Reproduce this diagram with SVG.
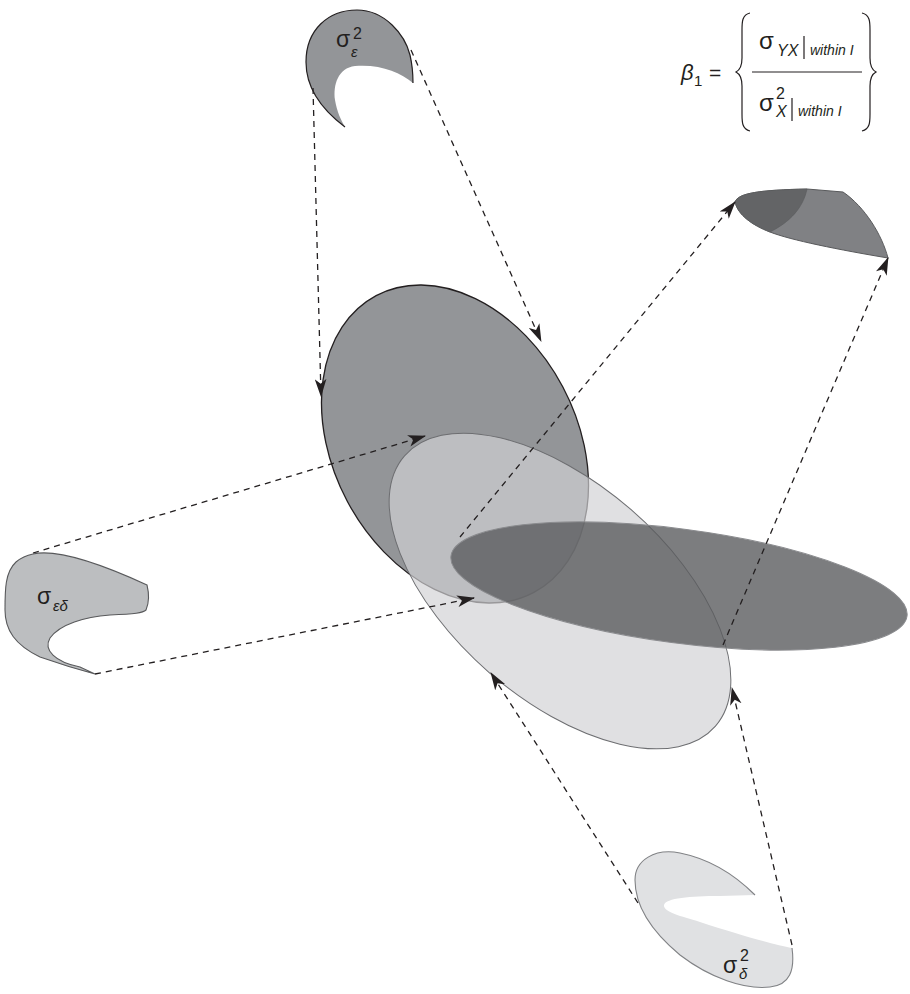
<svg xmlns="http://www.w3.org/2000/svg" width="910" height="994" viewBox="0 0 910 994">
<defs>
<marker id="ah" markerUnits="userSpaceOnUse" markerWidth="18" markerHeight="12" refX="16" refY="5.5" orient="auto" viewBox="0 0 17 11">
<path d="M0,0 L17,5.5 L0,11 L4.5,5.5 Z" fill="#231f20"/>
</marker>
</defs>
<style>
.t{font-family:"Liberation Sans",Arial,sans-serif;fill:#231f20}
.i{font-style:italic}
.c{fill:none;stroke:#231f20;stroke-width:1.3;stroke-dasharray:6 5;marker-end:url(#ah)}
</style>
<rect width="910" height="994" fill="#fff"/>

<g id="ellipse-x">
<ellipse cx="455" cy="444" rx="168" ry="122" transform="rotate(62 455 444)" fill="#939598" stroke="#231f20" stroke-width="1.3"/>
</g>
<g id="ellipse-light">
<ellipse cx="560" cy="591" rx="206" ry="108" transform="rotate(41 560 591)" fill="#d1d2d4" fill-opacity="0.68" stroke="#6d6e71" stroke-width="1"/>
</g>
<g id="ellipse-flat">
<ellipse cx="679" cy="586" rx="230" ry="57" transform="rotate(7.5 679 586)" fill="#5b5c5f" fill-opacity="0.8" stroke="#8a8b8e" stroke-width="1"/>
</g>

<g id="sigma-eps2">
<path d="M345,127 C325,112 306,90 306,62 C306,30 328,10 357,10 C385,10 405,35 410,55 C413,68 413,76 413,83 C400,72 380,64 355,66 C338,68 333,85 335,100 C337,112 341,120 345,127 Z" fill="#939598"/>
<path d="M345,127 C325,112 306,90 306,62 C306,30 328,10 357,10 C385,10 405,35 410,55 C413,68 413,76 413,83" fill="none" stroke="#231f20" stroke-width="1.2"/>
<text class="t" x="336" y="47" font-size="23">σ</text>
<text class="t" x="353" y="39" font-size="16">2</text>
<text class="t i" x="351" y="57" font-size="15">ε</text>
</g>

<g id="beta-cap">
<path d="M735,202 C738,193 760,190 807,189 L843,192 C865,207 882,235 888,258 C840,250 790,240 770,232 C752,225 738,215 735,202 Z" fill="#808184" stroke="#58595b" stroke-width="1"/>
<path d="M735,202 C738,193 760,190 807,189 C803,208 790,222 770,232 C752,225 738,215 735,202 Z" fill="#636466" stroke="#58595b" stroke-width="0.6"/>
</g>

<g id="sigma-epsdelta">
<path d="M33,554 C60,548 110,568 147,585 C149,593 149,603 146,610 C143,613 135,614 110,615 C85,617 60,624 50,638 C43,650 55,662 80,667 L95,674 C80,670 60,664 40,657 C15,645 5,630 5,610 C5,590 5,572 16,562 C22,557 28,555 33,554 Z" fill="#bcbec0" stroke="#58595b" stroke-width="1.1"/>
<text class="t" x="37" y="604" font-size="23">σ</text>
<text class="t i" x="53" y="611" font-size="15">εδ</text>
</g>

<g id="sigma-delta2">
<path d="M755,895 C740,880 715,860 680,853 C655,848 635,860 635,880 C635,905 650,930 680,955 C710,978 745,990 770,987 C790,985 795,970 792,948 C775,945 740,935 700,922 C680,916 663,912 664,905 C666,898 690,896 720,896 Z" fill="#e0e1e3"/>
<path d="M755,895 C740,880 715,860 680,853 C655,848 635,860 635,880 C635,905 650,930 680,955 C710,978 745,990 770,987 C790,985 795,970 792,948" fill="none" stroke="#808285" stroke-width="1.1"/>
<text class="t" x="723" y="973" font-size="23">σ</text>
<text class="t" x="740" y="961" font-size="16">2</text>
<text class="t i" x="739" y="979" font-size="15">δ</text>
</g>

<g id="connectors">
<line class="c" x1="313" y1="88" x2="321" y2="396"/>
<line class="c" x1="411" y1="50" x2="541" y2="341"/>
<line class="c" x1="33" y1="553" x2="425" y2="436"/>
<line class="c" x1="95" y1="674" x2="474" y2="598"/>
<line class="c" x1="638" y1="903" x2="491" y2="673"/>
<line class="c" x1="792" y1="945" x2="732" y2="688"/>
<line class="c" x1="460" y1="537" x2="735" y2="202"/>
<line class="c" x1="723" y1="645" x2="888" y2="258"/>
</g>

<g id="formula">
<text class="t i" x="681" y="80" font-size="22">β</text>
<text class="t" x="694" y="86" font-size="15">1</text>
<text class="t" x="709" y="80" font-size="21">=</text>
<path d="M750,13 C742,15 742,22 742,30 L742,58 C742,66 740,70 736,72 C740,74 742,78 742,86 L742,114 C742,122 742,129 750,131" fill="none" stroke="#231f20" stroke-width="1.2"/>
<path d="M862,13 C870,15 870,22 870,30 L870,58 C870,66 872,70 876,72 C872,74 870,78 870,86 L870,114 C870,122 870,129 862,131" fill="none" stroke="#231f20" stroke-width="1.2"/>
<line x1="752" y1="72" x2="862" y2="72" stroke="#231f20" stroke-width="1.2"/>
<text class="t" x="759" y="49" font-size="24">σ</text>
<text class="t i" x="777" y="56" font-size="16">YX</text>
<line x1="804" y1="36" x2="804" y2="59" stroke="#231f20" stroke-width="1.2"/>
<text class="t i" x="810" y="55" font-size="14">within I</text>
<text class="t" x="759" y="111" font-size="24">σ</text>
<text class="t" x="776" y="99" font-size="16">2</text>
<text class="t i" x="776" y="117" font-size="16">X</text>
<line x1="792" y1="98" x2="792" y2="121" stroke="#231f20" stroke-width="1.2"/>
<text class="t i" x="798" y="116" font-size="14">within I</text>
</g>
</svg>
